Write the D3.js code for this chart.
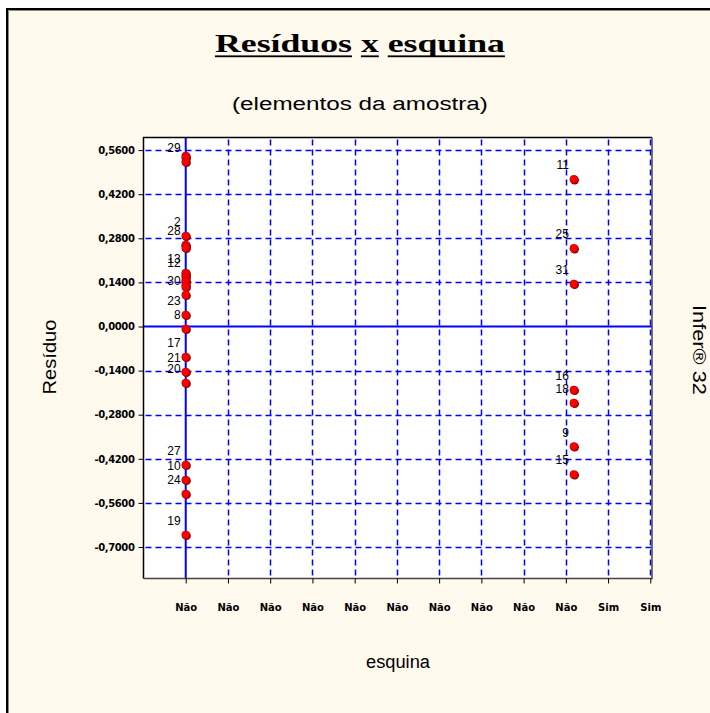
<!DOCTYPE html>
<html><head><meta charset="utf-8">
<script src="https://cdn.jsdelivr.net/npm/d3@7"></script>
<style>html,body{margin:0;padding:0;background:#fff;overflow:hidden}</style>
</head><body>
<svg id="c" width="710" height="713"></svg>
<script>
// ---- data ----
const xTickValues = [1,2,3,4,5,6,7,8,9,10,11,12];
const xTickLabels = ["Não","Não","Não","Não","Não","Não","Não","Não","Não","Não","Sim","Sim"];
const yTickValues = [-0.70,-0.56,-0.42,-0.28,-0.14,0,0.14,0.28,0.42,0.56];
const pointLabels = ["", "", "29", "2", "28", "", "", "13", "", "12", "", "", "", "", "30", "23", "8", "17", "21", "20", "27", "10", "24", "19",
                     "11", "25", "31", "16", "18", "9", "15"];
const pointX = [1,1,1,1,1,1,1,1,1,1,1,1,1,1,1,1,1,1,1,1,1,1,1,1,
                10.19,10.19,10.19,10.19,10.19,10.19,10.19];
const pointY = [0.5413,0.5349,0.5222,0.2873,0.2587,0.2556,0.2492,0.1698,0.1635,0.1571,0.1476,0.1413,0.1317,0.1254,0.1000,0.0365,-0.0079,
                -0.0968,-0.1444,-0.1794,-0.4397,-0.4873,-0.5317,-0.6619,
                0.4673,0.2483,0.1349,-0.2016,-0.2429,-0.3810,-0.4698];

// ---- layout ----
const svg = d3.select("#c");
const plot = {left:143.5, right:652, top:137.5, bottom:578.5};
const x = d3.scaleLinear().domain([0,12.04]).range([plot.left, plot.right]);
const y = d3.scaleLinear().domain([-0.8,0.6]).range([plot.bottom, plot.top]);
const fmt = d3.formatLocale({decimal:",",thousands:".",grouping:[3],currency:["",""],minus:"-"}).format(".4f");

// frame
svg.append("rect").attr("x",0).attr("y",0).attr("width",710).attr("height",713).attr("fill","#fff");
svg.append("rect").attr("x",7).attr("y",9).attr("width",720).attr("height",720)
   .attr("fill","#FFF9EE").attr("stroke","#000").attr("stroke-width",2);
svg.append("path").attr("d","M8.5,730V10.5H730").attr("fill","none").attr("stroke","#8a8a80").attr("stroke-width",1);

// plot background
svg.append("rect").attr("x",plot.left).attr("y",plot.top)
   .attr("width",plot.right-plot.left).attr("height",plot.bottom-plot.top).attr("fill","#fff");

// grid
const grid = svg.append("g").attr("stroke","#0000FF").attr("fill","none");
grid.selectAll(".hg").data(yTickValues.filter(d=>d!==0)).join("line")
  .attr("x1",plot.left+2).attr("x2",plot.right).attr("y1",d=>Math.round(y(d))+0.5).attr("y2",d=>Math.round(y(d))+0.5)
  .attr("stroke-width",1.5).attr("stroke-dasharray","6,4");
grid.selectAll(".vg").data(xTickValues.slice(1)).join("line")
  .attr("y1",plot.top+2).attr("y2",plot.bottom).attr("x1",d=>Math.round(x(d))+0.5).attr("x2",d=>Math.round(x(d))+0.5)
  .attr("stroke-width",1.5).attr("stroke-dasharray","6,4");
// solid reference lines
grid.append("line").attr("x1",plot.left).attr("x2",plot.right).attr("y1",y(0)).attr("y2",y(0)).attr("stroke-width",2);
grid.append("line").attr("y1",plot.top).attr("y2",plot.bottom).attr("x1",x(xTickValues[0])).attr("x2",x(xTickValues[0])).attr("stroke-width",2);

// border
svg.append("path").attr("d",`M${plot.left},${plot.bottom}V${plot.top}H${plot.right}`)
   .attr("fill","none").attr("stroke","#000").attr("stroke-width",1.5);
svg.append("path").attr("d",`M${plot.right},${plot.top}V${plot.bottom}H${plot.left}`)
   .attr("fill","none").attr("stroke","#444").attr("stroke-width",1.5);

// axes
const yAxis = svg.append("g").attr("transform",`translate(${plot.left},0)`)
  .call(d3.axisLeft(y).tickValues(yTickValues).tickFormat(fmt).tickSize(5).tickPadding(4));
yAxis.select(".domain").remove();
yAxis.selectAll("text").attr("font-family","DejaVu Sans").attr("font-weight","bold").attr("font-size",10)
  .attr("letter-spacing",-0.4).attr("fill","#000");
yAxis.selectAll("line").attr("stroke","#000");

const xAxis = svg.append("g").attr("transform",`translate(0,${plot.bottom})`)
  .call(d3.axisBottom(x).tickValues(xTickValues).tickFormat((d,i)=>xTickLabels[i]).tickSize(5).tickPadding(20));
xAxis.select(".domain").remove();
xAxis.selectAll("text").attr("font-family","DejaVu Sans").attr("font-weight","bold").attr("font-size",10)
  .attr("letter-spacing",0).attr("fill","#000");
xAxis.selectAll("line").attr("stroke","#000");

// points
const pts = d3.range(pointY.length);
svg.append("g").selectAll("circle.s").data(pts).join("circle")
  .attr("cx",i=>x(pointX[i])+0.8).attr("cy",i=>y(pointY[i])+0.8).attr("r",4.3).attr("fill","#7a0000");
svg.append("g").selectAll("circle.p").data(pts).join("circle")
  .attr("cx",i=>x(pointX[i])).attr("cy",i=>y(pointY[i])).attr("r",4).attr("fill","#FF0000").attr("stroke","#b00000").attr("stroke-width",0.6);
svg.append("g").selectAll("text").data(pts.filter(i=>pointLabels[i]!=="")).join("text")
  .attr("x",i=>x(pointX[i])-5).attr("y",i=>y(pointY[i])-10).attr("text-anchor","end")
  .attr("font-family","Liberation Sans, Arial").attr("font-size",12).attr("fill","#000")
  .text(i=>pointLabels[i]);

// stretched text helper
function stretched(str, cx, cy, font, size, weight, target, rotate) {
  const g = svg.append("g");
  const t = g.append("text").attr("font-family",font).attr("font-size",size).attr("font-weight",weight)
    .attr("fill","#000").text(str);
  const w = t.node().getComputedTextLength();
  const sx = target ? target / w : 1;
  t.attr("x",-w/2);
  g.attr("transform",`translate(${cx},${cy}) rotate(${rotate||0}) scale(${sx},1)`);
  return {g, t, w};
}

// title with per-word underline
const titleWords = ["Resíduos","x","esquina"];
const title = stretched(titleWords.join(" "), 360, 52, "Liberation Serif, Times New Roman", 25, "bold", 290);
{
  let idx = 0;
  titleWords.forEach(wd => {
    const start = idx === 0 ? 0 : title.t.node().getSubStringLength(0, idx);
    const len = title.t.node().getSubStringLength(idx, wd.length);
    title.g.append("rect").attr("x",-title.w/2+start).attr("y",3.4).attr("width",len).attr("height",1.8).attr("fill","#000");
    idx += wd.length + 1;
  });
}
stretched("(elementos da amostra)", 360, 110, "Liberation Sans, Arial", 19, "normal", 256);
stretched("esquina", 398, 668, "Liberation Sans, Arial", 19, "normal", 64);
stretched("Resíduo", 56, 357, "Liberation Sans, Arial", 19, "normal", 75, -90);
stretched("Infer® 32", 693, 350, "Liberation Sans, Arial", 18, "normal", 90, 90);
</script>
</body></html>
